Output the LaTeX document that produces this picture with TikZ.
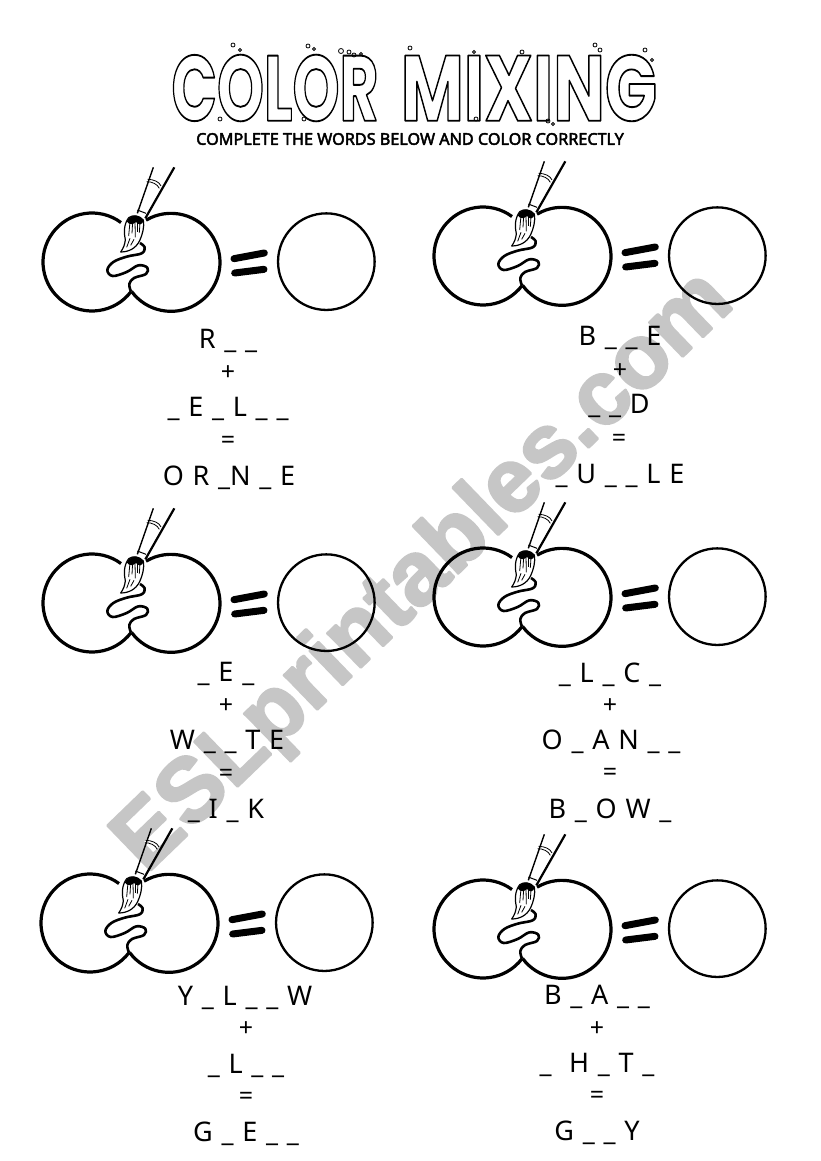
\documentclass[tikz,border=0pt]{standalone}
\usepackage{fontspec}
\setmainfont{Noto Sans}[WordSpace=1.25]
\newfontfamily\subfont{Noto Sans}
\newfontfamily\wmfont{Liberation Sans}
\newfontfamily\ttlfont{Poppins}
\newcommand{\strokeonly}[1]{\special{pdf: code q 1 Tr 0.2 w 1 j}#1\special{pdf: code Q}}
\newcommand{\strokefill}[1]{\special{pdf: code q 2 Tr 2.5 w 1 j 1 J}#1\special{pdf: code Q}}
\newcommand{\strokethin}[1]{\special{pdf: code q 2 Tr 0.45 w 1 j}#1\special{pdf: code Q}}
\definecolor{wm}{HTML}{C6C6C6}
\tikzset{
  x=1pt,y=-1pt,
  ring/.style={line width=3.2pt,black},
  goal/.style={line width=2.3pt,black},
  bar/.style={line width=7pt,line cap=round,black},
  hair/.style={line width=.8pt,black},
  wordline/.style={anchor=base,inner sep=0pt,font=\fontsize{27}{27}\selectfont,text=black},
  opsign/.style={anchor=center,inner sep=0pt,font=\fontsize{25}{25}\selectfont,text=black},
  mix/.pic={
    \begin{scope}[x=.33333pt,y=-.33333pt]
      \draw[ring] (186,336) ++(53.7:49pt) arc[start angle=53.7,end angle=322.7,radius=49pt];
      \draw[ring] (423,337) ++(120.6:49pt) arc[start angle=120.6,end angle=-143.7,radius=49pt];
      \draw[line width=2.6pt,line join=round] plot[smooth,tension=.6] coordinates {(303,425) (298,402) (312,384) (348,372) (352,353) (325,346) (290,366) (248,378) (232,360) (250,336) (290,320) (335,310) (344,292) (330,279)};
      \draw[goal] (889,335) circle[radius=48.3pt];
      \draw[bar] (612,326) -- (703,309);
      \draw[bar] (614,369) -- (702,358);
      % handle
      \draw[line width=1.4pt] (370,52) -- (322,190);
      \draw[line width=2.2pt] (433,52) -- (346,205);
      \draw[line width=.8pt] (353,88) .. controls (370,88) and (388,95) .. (393,108);
      \draw[line width=.8pt] (350,95) .. controls (366,95) and (382,102) .. (388,115);
      \draw[line width=1pt] (322,180) -- (348,190);
      % bristles
      \draw[line width=1.2pt,fill=white,line join=round] (296,203) .. controls (280,225) and (282,250) .. (286,270) .. controls (284,285) and (280,295) .. (272,306) .. controls (296,306) and (318,295) .. (329,272) .. controls (337,255) and (344,230) .. (340,210) .. controls (328,196) and (308,194) .. (296,203) -- cycle;
      \fill (290,214) .. controls (304,190) and (330,192) .. (341,214) .. controls (332,227) and (326,224) .. (318,216) .. controls (310,224) and (298,226) .. (290,214) -- cycle;
      \draw[hair] (300,215) -- (296,258);
      \draw[hair] (308,215) -- (306,250);
      \draw[hair] (315,215) -- (316,262);
      \draw[hair] (322,218) -- (322,245);
      \draw[hair] (330,218) -- (328,248);
      \draw[hair] (300,265) -- (290,292);
      \draw[hair] (312,268) -- (302,286);
    \end{scope}
  }
}
\begin{document}
\begin{tikzpicture}[x=1pt,y=-1pt]
\useasboundingbox (0,0) rectangle (821,1161);
\fill[white] (0,0) rectangle (821,1161);
% watermark
\node[rotate=44,inner sep=0pt,text=wm] (mark) at (425,573) {\fontsize{90.5}{92}\wmfont\bfseries\strokefill{ESLprintables.com}};
% title
\node[inner sep=0pt] (titleA) at (275,88) {\resizebox{207pt}{66pt}{\ttlfont\bfseries\strokeonly{COLOR}}};
\node[inner sep=0pt] (titleB) at (529,88) {\resizebox{256pt}{66pt}{\ttlfont\bfseries\strokeonly{MIXING}}};
\foreach \bx/\by/\br in {233/45/2,240/50/1.5,341/51/2.5,349/52/2,354/55/2,361/54/1.5,308/46/2,314/49/1.5,595/45/2,600/50/2,522/52/2,410/48/2,220/119/2,304/119/2,476/119/2,548/121/2,553/124/1.5,474/52/1.5,652/60/1.5,645/50/2}
  \draw[line width=.8pt] (\bx,\by) circle[radius=\br];
\node[inner sep=0pt] (sub) at (410,139) {\fontsize{16.2}{16}\subfont\strokethin{COMPLETE THE WORDS BELOW AND COLOR CORRECTLY}};
% mixing groups
\pic at (30,150) {mix};
\pic at (421,144) {mix};
\pic at (30,491) {mix};
\pic at (421,485) {mix};
\pic at (28,811) {mix};
\pic at (421,817) {mix};
% group 1
\node[wordline] (a1) at (228,348) {R \_ \_};
\node[opsign] (a2) at (228,373) {+};
\node[wordline] (a3) at (228,416) {\_ E \_ L \_ \_};
\node[opsign] (a4) at (228,442) {=};
\node[wordline] (a5) at (229,485) {O R \_N \_ E};
% group 2
\node[wordline] (b1) at (620,345) {B \_ \_ E};
\node[opsign] (b2) at (620,371) {+};
\node[wordline] (b3) at (619,413) {\_ \_ D};
\node[opsign] (b4) at (619,440) {=};
\node[wordline] (b5) at (620,483) {\_ U \_ \_ L E};
% group 3
\node[wordline] (c1) at (226,681) {\_ E \_};
\node[opsign] (c2) at (226,706) {+};
\node[wordline] (c3) at (227,749) {W \_ \_ T E};
\node[opsign] (c4) at (226,775) {=};
\node[wordline] (c5) at (226,818) {\_ I \_ K};
% group 4
\node[wordline] (d1) at (610,682) {\_ L \_ C \_};
\node[opsign] (d2) at (610,706) {+};
\node[wordline] (d3) at (611,749) {O \_ A N \_ \_};
\node[opsign] (d4) at (610,774) {=};
\node[wordline] (d5) at (610,818) {B \_ O W \_};
% group 5
\node[wordline] (e1) at (245,1005) {Y \_ L \_ \_ W};
\node[opsign] (e2) at (246,1029) {+};
\node[wordline] (e3) at (246,1073) {\_ L \_ \_};
\node[opsign] (e4) at (246,1098) {=};
\node[wordline] (e5) at (246,1141) {G \_ E \_ \_};
% group 6
\node[wordline] (f1) at (597,1004) {B \_ A \_ \_};
\node[opsign] (f2) at (597,1029) {+};
\node[wordline] (f3) at (597,1072) {\_ \ H \_ T \_};
\node[opsign] (f4) at (597,1097) {=};
\node[wordline] (f5) at (597,1140) {G \_ \_ Y};
\end{tikzpicture}
\end{document}
